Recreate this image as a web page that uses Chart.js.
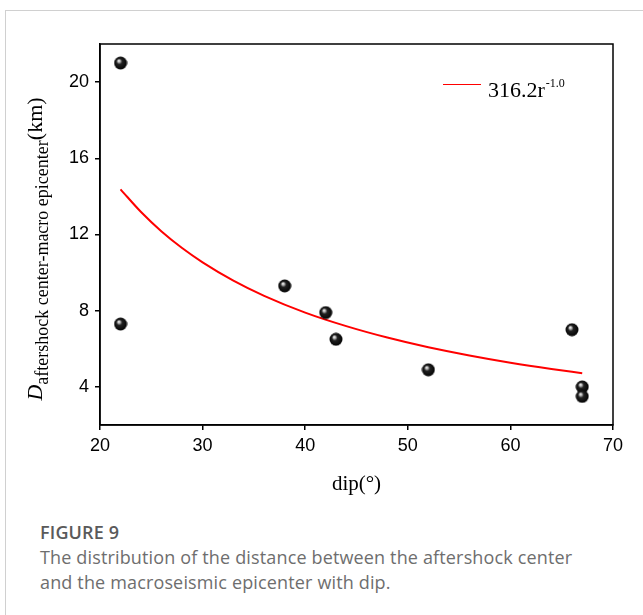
<!DOCTYPE html>
<html>
<head>
<meta charset="utf-8">
<script src="https://cdn.jsdelivr.net/npm/chart.js@4/dist/chart.umd.min.js"></script>
<style>
body{margin:0;background:#fff;width:643px;height:615px;overflow:hidden;position:relative;font-family:"Open Sans",sans-serif}
#frame{position:absolute;left:5px;top:10px;width:700px;height:700px;border-left:1px solid #d0d0d0;border-top:1px solid #d0d0d0}
#chart{position:absolute;left:0;top:0}
#cap{position:absolute;left:40px;top:520px;color:#6e6e6e;font-size:18px;line-height:25px;letter-spacing:0.15px}
#cap .fig{font-weight:600;color:#5a5a5a}
</style>
</head>
<body>
<div id="frame"></div>
<canvas id="chart" width="643" height="510"></canvas>
<div id="cap"><div class="fig">FIGURE 9</div>The distribution of the distance between the aftershock center<br>and the macroseismic epicenter with dip.</div>
<script>
// measured points
const dip = [22, 22, 38, 42, 43, 52, 66, 67, 67];
const distance = [21.0, 7.3, 9.3, 7.9, 6.5, 4.9, 7.0, 4.0, 3.5];
// fitted curve 316.2r^-1.0
const fitDip = [22, 24, 26, 28, 30, 33, 36, 40, 44, 48, 52, 56, 60, 64, 67];
const fitDistance = [14.37, 13.18, 12.16, 11.29, 10.54, 9.58, 8.78, 7.9, 7.19, 6.59, 6.08, 5.65, 5.27, 4.94, 4.72];
const xTicks = [20, 30, 40, 50, 60, 70];
const yTicks = [4, 8, 12, 16, 20];

// shiny black ball marker
const ball = document.createElement("canvas");
ball.width = 14; ball.height = 14;
(function(){
    const c = ball.getContext("2d");
    const g = c.createRadialGradient(5, 4.5, 0, 7, 7, 7);
    g.addColorStop(0, "#ffffff");
    g.addColorStop(0.18, "#bbbbbb");
    g.addColorStop(0.4, "#222222");
    g.addColorStop(1, "#000000");
    c.fillStyle = g;
    c.beginPath();
    c.arc(7, 7, 6.5, 0, Math.PI * 2);
    c.fill();
})();

const extras = {
    id: "extras",
    beforeDatasetsDraw(chart) {
        const a = chart.chartArea, ctx = chart.ctx;
        ctx.save();
        ctx.strokeStyle = "#000";
        ctx.lineWidth = 1.5;
        ctx.strokeRect(a.left, a.top, a.right - a.left, a.bottom - a.top);
        ctx.restore();
    },
    afterDraw(chart) {
        const a = chart.chartArea, ctx = chart.ctx;
        ctx.save();
        ctx.fillStyle = "#000";
        // x title
        ctx.font = '21px "Liberation Serif"';
        ctx.textAlign = "center";
        ctx.textBaseline = "alphabetic";
        ctx.fillText("dip(°)", (a.left + a.right) / 2, 490);

        // y title with subscript
        ctx.textAlign = "left";
        const fD = 'italic 22px "Liberation Serif"', fS = '18px "Liberation Serif"', fK = '22px "Liberation Serif"';
        const sub = "aftershock center-macro epicenter";
        ctx.font = fD; const wD = ctx.measureText("D").width;
        ctx.font = fS; const wS = ctx.measureText(sub).width;
        ctx.font = fK; const wK = ctx.measureText("(km)").width;
        const total = wD + wS + wK;
        ctx.translate(42, 249);
        ctx.rotate(-Math.PI / 2);
        let x = -total / 2;
        ctx.font = fD; ctx.fillText("D", x, 0); x += wD;
        ctx.font = fS; ctx.fillText(sub, x, 6); x += wS;
        ctx.font = fK; ctx.fillText("(km)", x, 0);
        ctx.restore();

        // legend
        ctx.save();
        ctx.strokeStyle = "#ff0000";
        ctx.lineWidth = 1;
        ctx.beginPath();
        ctx.moveTo(443, 84.5);
        ctx.lineTo(481, 84.5);
        ctx.stroke();
        ctx.fillStyle = "#000";
        ctx.font = '22px "Liberation Serif"';
        ctx.fillText("316.2r", 488, 97);
        const w = ctx.measureText("316.2r").width;
        ctx.font = '12px "Liberation Serif"';
        ctx.fillText("-1.0", 488 + w + 1, 87);
        ctx.restore();
    }
};

const axisFont = { family: "Liberation Sans", size: 18 };

new Chart(document.getElementById("chart"), {
    type: "scatter",
    data: {
        datasets: [
            {
                label: "316.2r-1.0",
                data: fitDip.map((v, i) => ({ x: v, y: fitDistance[i] })),
                showLine: true,
                borderColor: "#ff0000",
                borderWidth: 2,
                pointRadius: 0,
                cubicInterpolationMode: "monotone",
                order: 2
            },
            {
                label: "data",
                data: dip.map((v, i) => ({ x: v, y: distance[i] })),
                pointStyle: ball,
                pointRadius: 7,
                order: 1
            }
        ]
    },
    options: {
        responsive: false,
        animation: false,
        layout: { padding: { top: 44, right: 30, left: 0, bottom: 0 } },
        plugins: { legend: { display: false }, tooltip: { enabled: false } },
        scales: {
            x: {
                type: "linear",
                min: 20,
                max: 70,
                afterBuildTicks: s => { s.ticks = xTicks.map(v => ({ value: v })); },
                afterFit: s => { s.height = 85; },
                grid: { drawOnChartArea: false, tickLength: 5, color: "#000", lineWidth: 1.5 },
                border: { color: "#000", width: 1.5 },
                ticks: { color: "#000", font: axisFont, padding: 5, maxRotation: 0 }
            },
            y: {
                type: "linear",
                min: 2,
                max: 22,
                afterBuildTicks: s => { s.ticks = yTicks.map(v => ({ value: v })); },
                afterFit: s => { s.width = 100; },
                grid: { drawOnChartArea: false, tickLength: 5, color: "#000", lineWidth: 1.5 },
                border: { color: "#000", width: 1.5 },
                ticks: { color: "#000", font: axisFont, padding: 6 }
            }
        }
    },
    plugins: [extras]
});
</script>
</body>
</html>
